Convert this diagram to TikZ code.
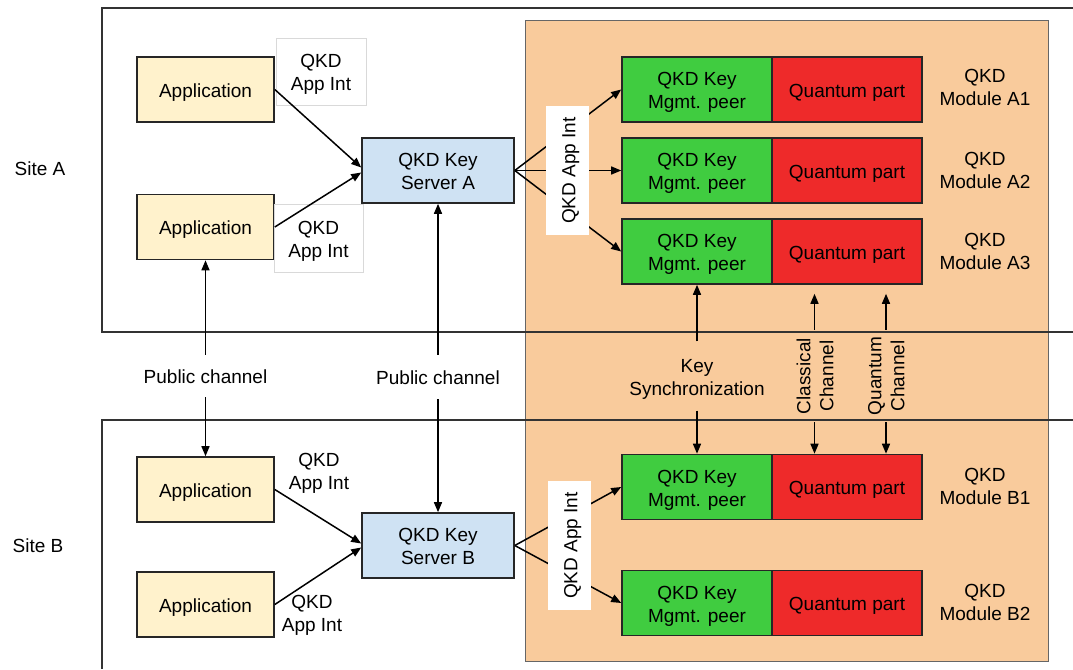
\documentclass[tikz,border=0pt]{standalone}
\usepackage{fontspec}
\setmainfont{Liberation Sans}
\usetikzlibrary{arrows.meta}
\definecolor{orangebg}{HTML}{F9CB9C}
\definecolor{appfill}{HTML}{FFF2CC}
\definecolor{srvfill}{HTML}{CFE2F3}
\definecolor{grn}{HTML}{40CC40}
\definecolor{rd}{HTML}{EE2A2A}
\newcommand\mystrutx{\rule[-0.21em]{0pt}{1.24em}}
\begin{document}
\begin{tikzpicture}[x=1pt,y=-1pt,
  every node/.style={font=\fontsize{19}{23}\selectfont, text=black,
    execute at begin node=\mystrutx, execute at end node=\mystrutx},
  box/.style={draw=black!85, line width=1.6pt, minimum width=137pt, minimum height=65pt, align=center, inner sep=0pt},
  app/.style={box, fill=appfill},
  srv/.style={box, fill=srvfill, minimum width=152pt},
  kmp/.style={box, fill=grn, minimum width=150pt},
  qp/.style={box, fill=rd, minimum width=150pt},
  lbl/.style={align=center, inner sep=0pt},
  lblbox/.style={lbl, draw=black!15, line width=0.6pt, fill=white, minimum width=90pt, minimum height=67pt},
  vlbl/.style={lbl, fill=white, rotate=90, minimum width=129pt, minimum height=43pt},
  arr/.style={line width=1.5pt, -{Triangle[length=10pt,width=8pt]}},
  site/.style={line width=1.6pt, draw=black!80},
]
\useasboundingbox (0,0) rectangle (1073,669);
\draw[fill=orangebg, draw=black!60, line width=0.8pt] (525,20) rectangle (1048,661);
\draw[site] (1073,8) -- (102,8) -- (102,332) -- (1073,332);
\draw[site] (1073,420) -- (102,420) -- (102,669);

\node (siteA) at (40,167.5) {Site A};
\node (siteB) at (38,544.5) {Site B};

% Site A
\node[app] (a1) at (205.5,89.5) {Application};
\node[app] (a2) at (205.5,227) {Application};
\node[lblbox] (ia1) at (321,71.5) {\mystrutx QKD\\App Int};
\node[lblbox, minimum width=89pt, minimum height=68pt] (ia2) at (318.5,238) {\mystrutx QKD\\App Int};
\node[srv] (sa) at (438,170.5) {\mystrutx QKD Key\\Server A};

\node[kmp] (ka1) at (697,89.5) {\mystrutx QKD Key\\Mgmt. peer};
\node[qp] (qa1) at (847,89.5) {Quantum part};
\node[lbl] (ma1) at (985,86.7) {\mystrutx QKD\\Module A1};
\node[kmp] (ka2) at (697,170.5) {\mystrutx QKD Key\\Mgmt. peer};
\node[qp] (qa2) at (847,170.5) {Quantum part};
\node[lbl] (ma2) at (985,169) {\mystrutx QKD\\Module A2};
\node[kmp] (ka3) at (697,251.5) {\mystrutx QKD Key\\Mgmt. peer};
\node[qp] (qa3) at (847,251.5) {Quantum part};
\node[lbl] (ma3) at (985,250.7) {\mystrutx QKD\\Module A3};

% Site B
\node[app] (b1) at (205.5,489.5) {Application};
\node[app] (b2) at (205.5,604.5) {Application};
\node[lbl] (ib1) at (319,470.5) {\mystrutx QKD\\App Int};
\node[lbl] (ib2) at (312,612.5) {\mystrutx QKD\\App Int};
\node[srv] (sb) at (438,545.5) {\mystrutx QKD Key\\Server B};

\node[kmp] (kb1) at (697,487) {\mystrutx QKD Key\\Mgmt. peer};
\node[qp] (qb1) at (847,487) {Quantum part};
\node[lbl] (mb1) at (985,485.5) {\mystrutx QKD\\Module B1};
\node[kmp] (kb2) at (697,603) {\mystrutx QKD Key\\Mgmt. peer};
\node[qp] (qb2) at (847,603) {Quantum part};
\node[lbl] (mb2) at (985,601) {\mystrutx QKD\\Module B2};

% channel labels
\node[lbl, minimum height=42pt] (pc1) at (205.5,376) {Public channel};
\node[lbl, minimum height=44pt] (pc2) at (438,377) {Public channel};
\node[lbl, minimum height=69pt] (ks) at (697,376) {\mystrutx Key\\Synchronization};
\node[lbl, rotate=90, minimum width=92pt] (cc) at (814,376) {\mystrutx Classical\\Channel};
\node[lbl, rotate=90, minimum width=92pt] (qc) at (885,376) {\mystrutx Quantum\\Channel};

% arrows
\draw[arr] (a1.east) -- ([yshift=3pt]sa.west);
\draw[arr] (a2.east) -- ([yshift=-2pt]sa.west);
\draw[arr] (b1.east) -- ([yshift=2pt]sb.west);
\draw[arr] (b2.east) -- ([yshift=-2pt]sb.west);

\draw[arr] (pc1.north) -- (a2.south);
\draw[arr] (pc1.south) -- (b1.north);
\draw[arr] (pc2.north) -- (sa.south);
\draw[arr] (pc2.south) -- (sb.north);

\draw[arr] (ks.north) -- (ka3.south);
\draw[arr] (ks.south) -- (kb1.north);
\draw[arr, shorten >=9pt] ([xshift=0.5pt]cc.east) -- ([xshift=0.5pt]cc.east |- qa3.south);
\draw[arr] ([xshift=0.5pt]cc.west) -- ([xshift=0.5pt]cc.west |- qb1.north);
\draw[arr, shorten >=9pt] ([xshift=1pt]qc.east) -- ([xshift=1pt]qc.east |- qa3.south);
\draw[arr] ([xshift=1pt]qc.west) -- ([xshift=1pt]qc.west |- qb1.north);

\draw[arr] (sa.east) -- (ka1.west);
\draw[arr] (sa.east) -- (ka2.west);
\draw[arr] (sa.east) -- (ka3.west);
\draw[arr] (sb.east) -- (kb1.west);
\draw[arr] (sb.east) -- (kb2.west);

\node[vlbl] (va) at (567.5,170.5) {QKD App Int};
\node[vlbl] (vb) at (569.5,545.5) {QKD App Int};
\end{tikzpicture}
\end{document}
